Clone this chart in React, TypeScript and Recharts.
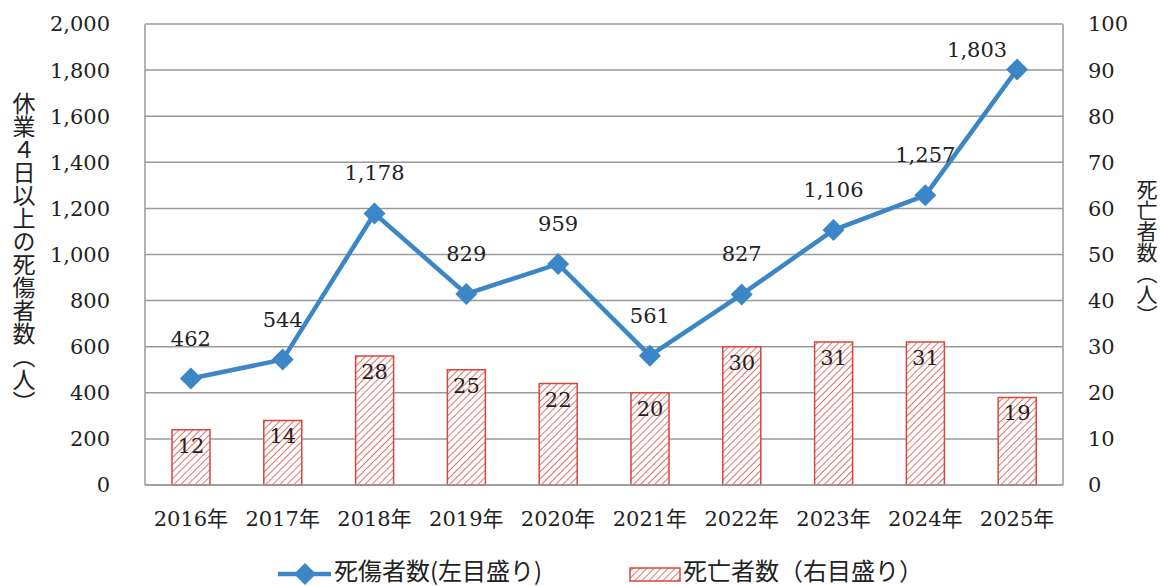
import React from 'react';
import { ComposedChart, Bar, Line, XAxis, YAxis, CartesianGrid, LabelList } from 'recharts';

const years = ['2016年', '2017年', '2018年', '2019年', '2020年', '2021年', '2022年', '2023年', '2024年', '2025年'];
const casualties = [462, 544, 1178, 829, 959, 561, 827, 1106, 1257, 1803];
const deaths = [12, 14, 28, 25, 22, 20, 30, 31, 31, 19];
const leftTicks = [0, 200, 400, 600, 800, 1000, 1200, 1400, 1600, 1800, 2000];
const rightTicks = [0, 10, 20, 30, 40, 50, 60, 70, 80, 90, 100];

const data = years.map((y, i) => ({ year: y, casualties: casualties[i], deaths: deaths[i] }));

const BLUE = '#3b86c6';
const RED = '#d8463e';
const GRID = '#9a9a9a';
const SERIF = '"DejaVu Serif", "Noto Sans CJK JP", serif';
const SANS = '"Noto Sans CJK JP", "Noto Sans", sans-serif';
const fmt = (v: number) => v.toLocaleString('en-US');

const Diamond = (props: any) => {
  const { cx, cy } = props;
  if (cx == null || cy == null) return null;
  const r = 11;
  return <path d={`M${cx},${cy - r} L${cx + r},${cy} L${cx},${cy + r} L${cx - r},${cy} Z`} fill={BLUE} stroke="none" />;
};

const LineLabel = (props: any) => {
  const { x, y, value, index } = props;
  const last = index === casualties.length - 1;
  return (
    <text x={x + (last ? -40 : 0)} y={y + (last ? -12 : -33)} textAnchor="middle" fontFamily={SERIF} fontSize={21} fill="#222">
      {fmt(value)}
    </text>
  );
};

const BarLabel = (props: any) => {
  const { x, y, width, value } = props;
  return (
    <text x={x + width / 2} y={y + 23} textAnchor="middle" fontFamily={SERIF} fontSize={21} fill="#222">
      {value}
    </text>
  );
};

export default function App() {
  return (
    <div style={{ position: 'absolute', left: 0, top: 0, width: 1163, height: 586, background: '#fff', overflow: 'hidden' }}>
      <ComposedChart width={1163} height={586} data={data} margin={{ top: 24, right: 0, bottom: 0, left: 0 }}>
        <defs>
          <pattern id="hatch2" patternUnits="userSpaceOnUse" width={5} height={5} patternTransform="rotate(45)">
            <rect width={5} height={5} fill="#fff" />
            <line x1={0} y1={0} x2={0} y2={5} stroke="#e0766e" strokeWidth={2} />
          </pattern>
        </defs>
        <CartesianGrid yAxisId="left" vertical={false} stroke={GRID} strokeWidth={1.5} />
        <XAxis
          dataKey="year"
          height={101}
          tickLine={false}
          tickSize={0}
          tickMargin={26}
          axisLine={{ stroke: GRID, strokeWidth: 1.5 }}
          tick={{ fontFamily: SERIF, fontSize: 21, fill: '#222' }}
          interval={0}
        />
        <YAxis
          yAxisId="left"
          orientation="left"
          width={145}
          domain={[0, 2000]}
          ticks={leftTicks}
          tickFormatter={fmt}
          tickLine={false}
          tickSize={0}
          tickMargin={35}
          axisLine={{ stroke: GRID, strokeWidth: 1.5 }}
          tick={{ fontFamily: SERIF, fontSize: 21, fill: '#222' }}
          interval={0}
        />
        <YAxis
          yAxisId="right"
          orientation="right"
          width={100}
          domain={[0, 100]}
          ticks={rightTicks}
          tickLine={false}
          tickSize={0}
          tickMargin={25}
          axisLine={{ stroke: GRID, strokeWidth: 1.5 }}
          tick={{ fontFamily: SERIF, fontSize: 21, fill: '#222', textAnchor: 'start' }}
          interval={0}
        />
        <Bar yAxisId="right" dataKey="deaths" barSize={38} fill="url(#hatch2)" stroke={RED} strokeWidth={1.5} isAnimationActive={false}>
          <LabelList dataKey="deaths" content={BarLabel} />
        </Bar>
        <Line
          yAxisId="left"
          dataKey="casualties"
          stroke={BLUE}
          strokeWidth={4.5}
          dot={<Diamond />}
          activeDot={false}
          isAnimationActive={false}
        >
          <LabelList dataKey="casualties" content={LineLabel} />
        </Line>
      </ComposedChart>
      <div
        style={{
          position: 'absolute', left: 11, top: 92, writingMode: 'vertical-rl', textOrientation: 'mixed',
          fontFamily: SANS, fontSize: 23, lineHeight: '25px', color: '#222',
        }}
      >
        休業４日以上の死傷者数（人）
      </div>
      <div
        style={{
          position: 'absolute', left: 1136, top: 179, width: 22, writingMode: 'vertical-rl', textOrientation: 'mixed',
          fontFamily: SANS, fontSize: 21, lineHeight: '22px', color: '#222',
        }}
      >
        死亡者数（人）
      </div>
      <svg width={1163} height={36} style={{ position: 'absolute', left: 0, top: 550 }}>
        <defs>
          <pattern id="hatch" patternUnits="userSpaceOnUse" width={5} height={5} patternTransform="rotate(45)">
            <rect width={5} height={5} fill="#fff" />
            <line x1={0} y1={0} x2={0} y2={5} stroke="#e0766e" strokeWidth={2} />
          </pattern>
        </defs>
        <line x1={278} y1={24} x2={331} y2={24} stroke={BLUE} strokeWidth={4.5} />
        <path d="M305,13 L316,24 L305,35 L294,24 Z" fill={BLUE} />
        <text x={334} y={30} fontFamily={SANS} fontSize={24} fill="#222">死傷者数(左目盛り)</text>
        <rect x={630} y={18} width={50} height={13} fill="url(#hatch)" stroke={RED} strokeWidth={1.5} />
        <text x={683} y={30} fontFamily={SANS} fontSize={24} fill="#222">死亡者数（右目盛り）</text>
      </svg>
    </div>
  );
}
